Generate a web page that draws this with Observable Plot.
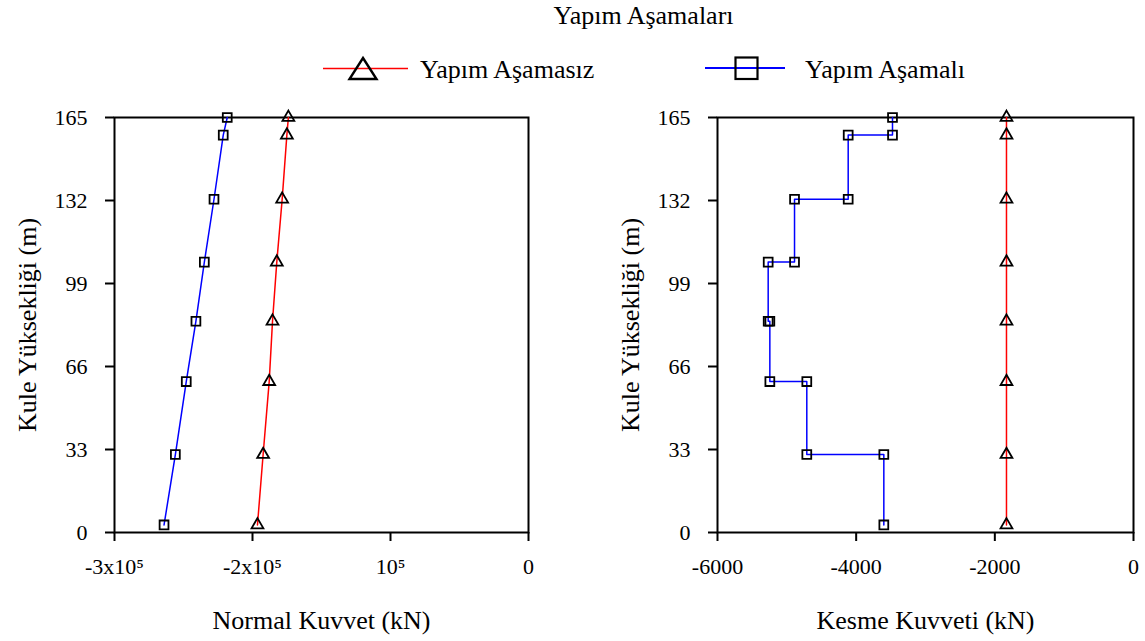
<!DOCTYPE html>
<html>
<head>
<meta charset="utf-8">
<script src="https://cdn.jsdelivr.net/npm/d3@7"></script>
<script src="https://cdn.jsdelivr.net/npm/@observablehq/plot@0.6"></script>
<style>
  html, body { margin: 0; padding: 0; background: white; }
  #wrap { position: relative; width: 1145px; height: 641px; overflow: hidden; background: white; font-family: 'Liberation Serif', 'Times New Roman', serif; }
  #wrap > * { position: absolute; top: 0; }
</style>
</head>
<body>
<div id="wrap"></div>
<script>
// ---- data ----
const legendTitle = "Yapım Aşamaları";
const seriesNames = ["Yapım Aşamasız", "Yapım Aşamalı"];
const seriesColors = ["#ff0000", "#0000ff"];
const yLabel = "Kule Yüksekliği (m)";
const normalLabel = "Normal Kuvvet (kN)";
const shearLabel = "Kesme Kuvveti (kN)";

const heightTicks = [0, 33, 66, 99, 132, 165];
const normalTicks = [-300000, -200000, -100000, 0];
const normalTickLabels = ["-3x10⁵", "-2x10⁵", "10⁵", "0"];
const shearTicks = [-6000, -4000, -2000, 0];
const shearTickLabels = ["-6000", "-4000", "-2000", "0"];

// levels (m), top to bottom
const levels = [165, 158, 132.5, 107.5, 84, 60, 31, 3];
// Normal force (kN)
const normalUnstaged = [-174000, -175100, -178500, -182400, -185500, -187900, -192300, -196400];
const normalStaged = [-218300, -221200, -227900, -234900, -241000, -248000, -255900, -264100];
// Shear force (kN)
const shearUnstaged = [-1832, -1832, -1832, -1832, -1832, -1832, -1832, -1832];
const shearStagedX = [-3476, -3476, -4115, -4115, -4889, -4889, -5269, -5269, -5245, -5245, -4712, -4712, -3601, -3601];
const shearStagedY = [165, 158, 158, 132.5, 132.5, 107.5, 107.5, 84, 84, 60, 60, 31, 31, 3];

// ---- tables ----
const normUn = levels.map((h, i) => ({x: normalUnstaged[i], y: h}));
const normSt = levels.map((h, i) => ({x: normalStaged[i], y: h}));
const shUn = levels.map((h, i) => ({x: shearUnstaged[i], y: h}));
const shSt = shearStagedX.map((x, i) => ({x, y: shearStagedY[i]}));

const font = "'Liberation Serif', 'Times New Roman', serif";
const normalFmt = new Map(normalTicks.map((t, i) => [t, normalTickLabels[i]]));
const shearFmt = new Map(shearTicks.map((t, i) => [t, shearTickLabels[i]]));

function panel({width, marginLeft, marginRight, domain, ticks, fmt, xLabel, un, st}) {
  return Plot.plot({
    width, height: 641,
    marginLeft, marginRight, marginTop: 117, marginBottom: 109,
    style: {fontFamily: font, fontSize: "22px", color: "black", background: "transparent", overflow: "visible"},
    x: {domain},
    y: {domain: [0, 165]},
    marks: [
      Plot.axisX(ticks, {tickSize: 9, tickPadding: 17, strokeWidth: 2, fontSize: 22, tickFormat: d => fmt.get(d), label: null}),
      Plot.axisY(heightTicks, {tickSize: 9, tickPadding: 18, strokeWidth: 2, fontSize: 22, label: null}),
      Plot.frame({stroke: "black", strokeWidth: 2}),
      Plot.line(un, {x: "x", y: "y", stroke: seriesColors[0], strokeWidth: 1.5}),
      Plot.line(st, {x: "x", y: "y", stroke: seriesColors[1], strokeWidth: 1.5}),
      Plot.dot(un, {x: "x", y: "y", symbol: "triangle", r: 4.4, stroke: "black", strokeWidth: 1.8, fill: "none"}),
      Plot.dot(st, {x: "x", y: "y", symbol: "square", r: 5.0, stroke: "black", strokeWidth: 1.8, fill: "none"}),
      Plot.text([xLabel], {text: d => d, frameAnchor: "bottom", textAnchor: "middle", dy: 96, fontSize: 26, lineAnchor: "bottom", fill: "black"}),
      Plot.text([yLabel], {text: d => d, frameAnchor: "left", textAnchor: "middle", dx: -79, rotate: -90, fontSize: 26, lineAnchor: "bottom", fill: "black"})
    ]
  });
}

const wrap = document.getElementById("wrap");
const left = panel({width: 572, marginLeft: 114, marginRight: 44, domain: [-300000, 0], ticks: normalTicks, fmt: normalFmt, xLabel: normalLabel, un: normUn, st: normSt});
left.style.left = "0px";
const right = panel({width: 573, marginLeft: 145, marginRight: 12, domain: [-6000, 0], ticks: shearTicks, fmt: shearFmt, xLabel: shearLabel, un: shUn, st: shSt});
right.style.left = "572px";
wrap.appendChild(left);
wrap.appendChild(right);

// ---- legend header ----
const ns = "http://www.w3.org/2000/svg";
const hdr = document.createElementNS(ns, "svg");
hdr.setAttribute("width", 1145);
hdr.setAttribute("height", 100);
hdr.style.left = "0px";
hdr.style.pointerEvents = "none";
hdr.style.fontFamily = font;
function el(tag, attrs, text) {
  const e = document.createElementNS(ns, tag);
  for (const k in attrs) e.setAttribute(k, attrs[k]);
  if (text != null) e.textContent = text;
  hdr.appendChild(e);
  return e;
}
el("text", {x: 643.5, y: 24, "text-anchor": "middle", "font-size": 26, fill: "black"}, legendTitle);
el("line", {x1: 323, x2: 408, y1: 68.5, y2: 68.5, stroke: seriesColors[0], "stroke-width": 1.6});
el("path", {d: "M363,58L376.5,79L349.5,79Z", fill: "none", stroke: "black", "stroke-width": 2.4});
el("text", {x: 420, y: 78, "font-size": 26, fill: "black"}, seriesNames[0]);
el("line", {x1: 705, x2: 785, y1: 68, y2: 68, stroke: seriesColors[1], "stroke-width": 1.8});
el("rect", {x: 735.5, y: 57.5, width: 22, height: 21.5, fill: "none", stroke: "black", "stroke-width": 2.2});
el("text", {x: 805, y: 78, "font-size": 26, fill: "black"}, seriesNames[1]);
wrap.appendChild(hdr);
</script>
</body>
</html>
